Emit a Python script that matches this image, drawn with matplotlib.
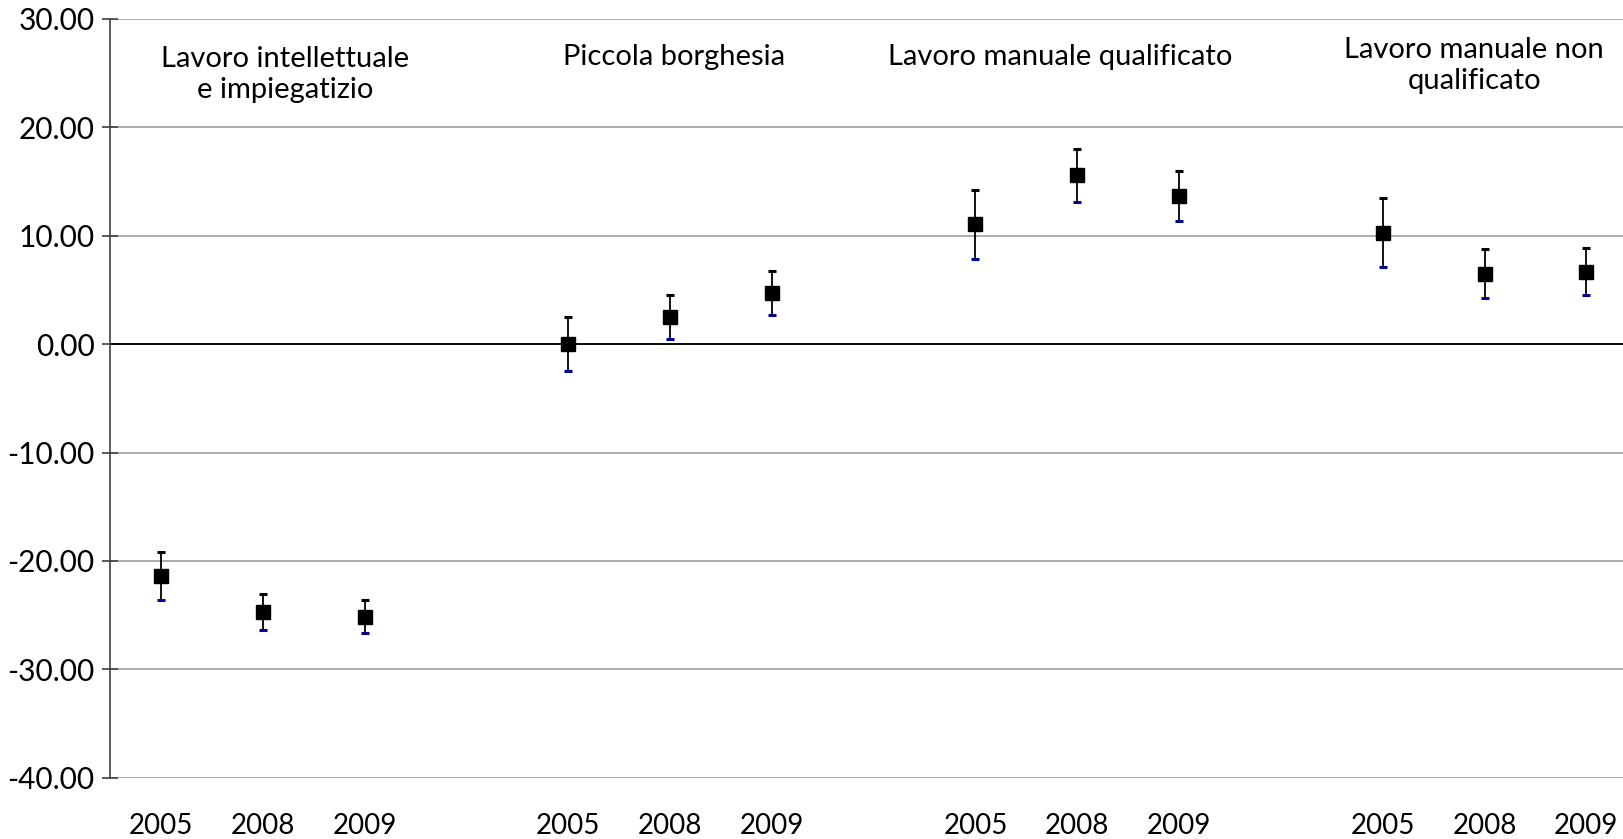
import numpy as np
import matplotlib
matplotlib.use('Agg')
import matplotlib.pyplot as plt

plt.rcParams['font.family'] = ['Lato', 'DejaVu Sans']

# dati
gruppi = ['Lavoro intellettuale\ne impiegatizio', 'Piccola borghesia',
          'Lavoro manuale qualificato', 'Lavoro manuale non\nqualificato']
anni = ['2005', '2008', '2009']

valori = [[-21.4, -24.7, -25.15],
          [0.0, 2.5, 4.7],
          [11.1, 15.6, 13.7],
          [10.3, 6.5, 6.7]]
err_alto = [[2.2, 1.65, 1.5],
            [2.5, 2.0, 2.05],
            [3.15, 2.45, 2.3],
            [3.15, 2.3, 2.15]]
err_basso = [[2.2, 1.65, 1.5],
             [2.5, 2.0, 2.0],
             [3.2, 2.5, 2.3],
             [3.15, 2.2, 2.2]]

# posizioni: 3 anni per gruppo + uno spazio vuoto
xs, ys, eh, el, etichette = [], [], [], [], []
for g in range(len(gruppi)):
    for a in range(len(anni)):
        xs.append(g * 4 + a)
        ys.append(valori[g][a])
        eh.append(err_alto[g][a])
        el.append(err_basso[g][a])
        etichette.append(anni[a])
xs = np.array(xs)
ys = np.array(ys)
eh = np.array(eh)
el = np.array(el)

fig = plt.figure(figsize=(16.23, 8.39), dpi=100)
ax = fig.add_axes([110 / 1623, 1 - 777.7 / 839, 1 - 110 / 1623, (777.7 - 19) / 839])

ax.set_ylim(-40, 30)
ax.set_xlim(-0.5, 14.36)
ax.set_yticks(np.arange(-40, 31, 10))
ax.yaxis.set_major_formatter(matplotlib.ticker.FormatStrFormatter('%.2f'))
ax.yaxis.grid(True, color='#a6a6a6', linewidth=1.3)
ax.set_axisbelow(True)
ax.axhline(0, color='black', linewidth=1.3, zorder=1)

for s in ['top', 'right', 'bottom']:
    ax.spines[s].set_visible(False)
ax.spines['left'].set_color('#404040')
ax.spines['left'].set_linewidth(1.2)
ax.tick_params(axis='y', direction='inout', length=12, width=1.2, color='#404040',
               labelsize=21.5, pad=5)

ax.set_xticks(xs)
ax.set_xticklabels(etichette)
ax.tick_params(axis='x', length=0, labelsize=20, pad=25.5)

# barre d'errore
ax.vlines(xs, ys - el, ys + eh, color='black', linewidth=1.3, zorder=2)
ax.plot(xs, ys + eh, linestyle='none', marker='_', markersize=6, markeredgewidth=2.2,
        color='black', zorder=3)
ax.plot(xs, ys - el, linestyle='none', marker='_', markersize=6, markeredgewidth=2.2,
        color='#00008b', zorder=3)
ax.plot(xs, ys, linestyle='none', marker='s', markersize=9.5, color='black', zorder=4)

# titoli dei gruppi
pos_titoli = [(1.22, 24.9), (5.04, 26.5), (8.83, 26.5), (12.9, 25.7)]
for t, (px, py) in zip(gruppi, pos_titoli):
    ax.text(px, py, t, ha='center', va='center', fontsize=21, linespacing=1.25,
            multialignment='center')

fig.savefig('out.png', dpi=100)
